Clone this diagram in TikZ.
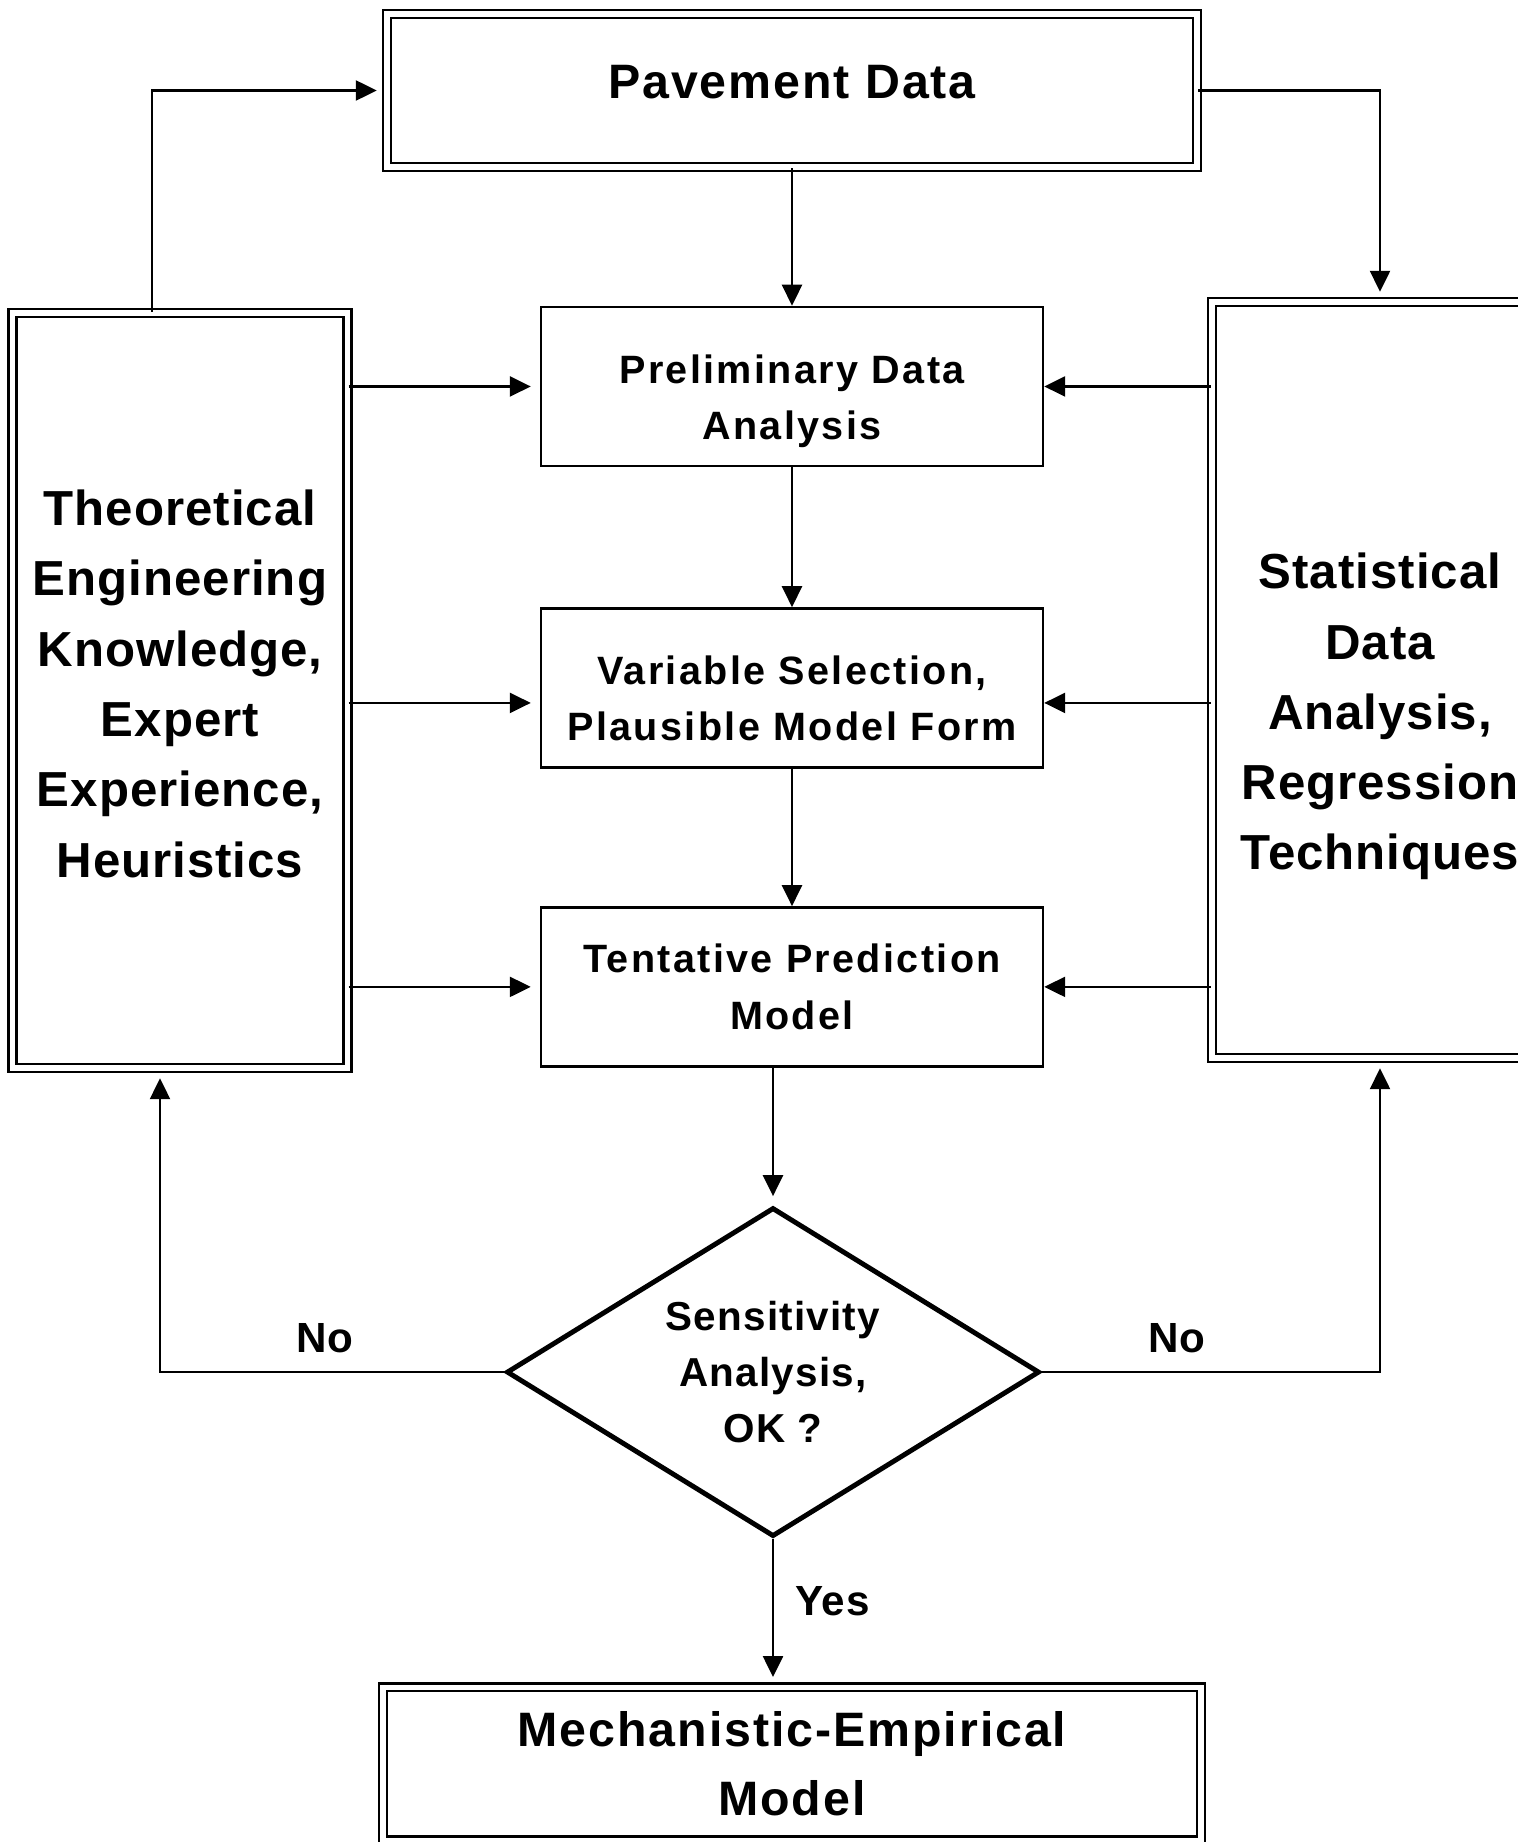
\documentclass[tikz,border=0pt]{standalone}
\usepackage{fontspec}
\setmainfont{Liberation Sans}
\newfontfamily\headfont[LetterSpace=4]{Liberation Sans}
\newfontfamily\sidefont[LetterSpace=2]{Liberation Sans}
\newfontfamily\stepfont[LetterSpace=6]{Liberation Sans}
\newfontfamily\askfont[LetterSpace=3]{Liberation Sans}
\usetikzlibrary{shapes.geometric, arrows.meta, positioning}
\tikzset{
    dbox/.style={rectangle, draw=black, double=white, line width=1.4pt, double distance=2.9pt, align=center},
    headbox/.style={dbox, minimum width=16.2cm, minimum height=3.06cm, font=\headfont\bfseries\fontsize{27.5}{39}\selectfont},
    sidebox/.style={dbox, minimum width=6.7cm, minimum height=15.1cm, font=\sidefont\bfseries\fontsize{28}{40}\selectfont},
    stepbox/.style={rectangle, draw=black, line width=1.4pt, minimum width=10.04cm, minimum height=3.18cm, align=center, font=\stepfont\bfseries\fontsize{22.5}{32}\selectfont},
    decision/.style={diamond, draw=black, line width=2.8pt, aspect=1.6, minimum width=10.66cm, minimum height=6.58cm, inner sep=0pt, align=center, font=\askfont\bfseries\fontsize{23}{32}\selectfont},
    arrow/.style={-{Triangle[length=0.42cm, width=0.4cm]}, line width=1.4pt},
    gapped/.style={shorten >=0.18cm},
    answer/.style={font=\sidefont\bfseries\fontsize{24}{28}\selectfont}
}
\begin{document}
\begin{tikzpicture}
    \useasboundingbox (0,0) rectangle (30.34,-36.84);

    % --- Main column ---
    \node (pave) [headbox, text depth=0.33cm] at (15.84,-1.81) {Pavement Data};
    \node (prelim) [stepbox, text height=2.3cm, below=2.75cm of pave] {Preliminary Data\\Analysis};
    \node (varsel) [stepbox, text height=2.1cm, below=2.8cm of prelim] {Variable Selection,\\Plausible Model Form};
    \node (tent) [stepbox, below=2.75cm of varsel] {Tentative Prediction\\Model};
    \node (dia) [decision, below=2.75cm of tent, xshift=-0.38cm] {Sensitivity\\Analysis,\\OK ?};
    \node (memod) [headbox, minimum width=16.36cm, minimum height=3.06cm, below=2.94cm of dia, xshift=0.38cm] {Mechanistic-Empirical\\Model};

    % --- Side boxes ---
    \node (theo) [sidebox, text height=7.47cm] at (3.6,-13.81) {Theoretical\\Engineering\\Knowledge,\\Expert\\Experience,\\Heuristics};
    \node (stat) [sidebox, minimum width=6.72cm, minimum height=15.12cm, text height=7.8cm] at (27.6,-13.6) {Statistical\\Data\\Analysis,\\Regression\\Techniques};

    % --- Main flow ---
    \draw [arrow] (pave) -- (prelim);
    \draw [arrow] (prelim) -- (varsel);
    \draw [arrow] (varsel) -- (tent);
    \draw [arrow, gapped] (dia.north |- tent.south) -- (dia.north);
    \draw [arrow, gapped] (dia.south) -- (dia.south |- memod.north) node [answer, pos=0.42, right=0.3cm] {Yes};

    % --- Knowledge inputs ---
    \draw [arrow, gapped] ([xshift=-0.56cm]theo.north) |- (pave.west);
    \draw [arrow, gapped] (pave.east) -| (stat.north);
    \path ([yshift=-0.3cm]varsel.west) coordinate (vsl) ([yshift=-0.3cm]varsel.east) coordinate (vsr);
    \draw [arrow, gapped] (theo.east |- prelim.west) -- (prelim.west);
    \draw [arrow, gapped] (theo.east |- vsl) -- (vsl);
    \draw [arrow, gapped] (theo.east |- tent.west) -- (tent.west);
    \draw [arrow] (stat.west |- prelim.east) -- (prelim.east);
    \draw [arrow] (stat.west |- vsr) -- (vsr);
    \draw [arrow] (stat.west |- tent.east) -- (tent.east);

    % --- Feedback loops ---
    \draw [arrow, gapped] (dia.west) -| ([xshift=-0.4cm]theo.south) node [answer, pos=0.26, above=0.24cm] {No};
    \draw [arrow, gapped] (dia.east) -| (stat.south) node [answer, pos=0.2, above=0.24cm] {No};
\end{tikzpicture}
\end{document}
